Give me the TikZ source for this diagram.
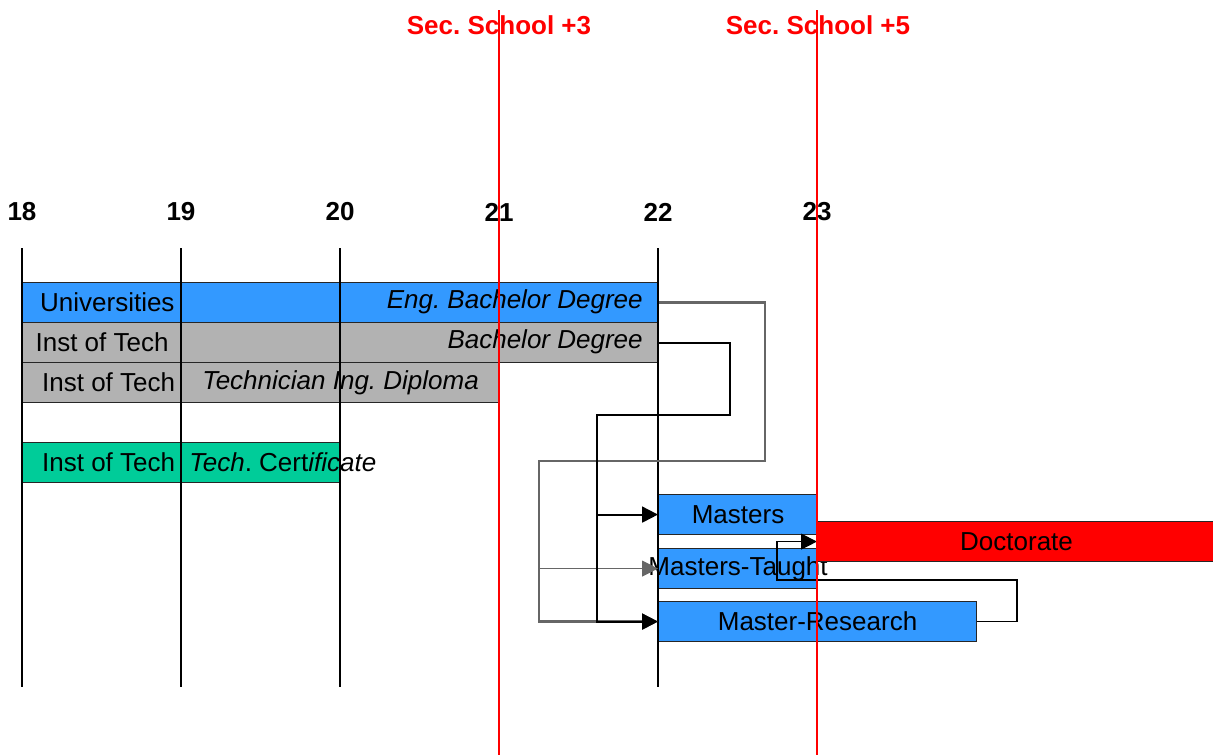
\documentclass[tikz,border=0pt]{standalone}
\usepackage{fontspec}
\setmainfont{Liberation Sans}
\usetikzlibrary{arrows.meta}
\frenchspacing
\definecolor{unicol}{HTML}{3399FF}
\definecolor{techcol}{HTML}{B2B2B2}
\definecolor{certcol}{HTML}{00CC99}
\definecolor{doccol}{HTML}{FF0000}
\definecolor{routecol}{HTML}{666666}
\tikzset{
    txt/.style={font=\fontsize{14.8}{17}\selectfont, inner sep=0pt},
    yearlbl/.style={txt, font=\fontsize{14.8}{17}\selectfont\bfseries},
    bar/.style={txt, draw=black!85, line width=0.65pt, minimum height=0.8cm,
                anchor=north west},
    onecol/.style={bar, minimum width=3.18cm},
    twocol/.style={bar, minimum width=6.36cm},
    yearline/.style={line width=0.75pt},
    flow/.style={-{Triangle[length=9pt, width=9pt]}, line width=1.1pt},
    grayflow/.style={flow, draw=routecol, line width=1.3pt},
    thinflow/.style={flow, line width=0.7pt},
    marker/.style={draw=red, line width=0.8pt},
    markertxt/.style={yearlbl, text=red},
}

\begin{document}
\begin{tikzpicture}[x=0.02cm, y=-0.02cm]
    \path[use as bounding box] (0,0) rectangle (1213,755);

    \node[onecol, fill=unicol] (uni) at (22,282) {\hspace*{6pt}Universities};
    \node[onecol, fill=unicol] (uniyear) at (181,282) {};
    \node[twocol, fill=unicol] (eng) at (340,282) {};
    \node[txt, anchor=east] (engtxt) at (643,302) {\textit{Eng. Bachelor Degree}};

    \node[onecol, fill=techcol] (tech) at (22,322) {Inst of Tech};
    \node[onecol, fill=techcol] (techyear) at (181,322) {};
    \node[twocol, fill=techcol] (bach) at (340,322) {};
    \node[txt, anchor=east] (bachtxt) at (643,342) {\textit{Bachelor Degree}};

    \node[onecol, fill=techcol] (techdip) at (22,362) {\hspace*{7.5pt}Inst of Tech};
    \node[twocol, fill=techcol] (dip) at (181,362) {\textit{Technician Ing. Diploma}};

    \node[onecol, fill=certcol] (techcert) at (22,442) {\hspace*{7.5pt}Inst of Tech};
    \node[onecol, fill=certcol] (cert) at (181,442) {};
    \node[txt, anchor=west] (certtxt) at (189,462)
        {\textit{Tech}. Cert\textit{ificate}};

    \node[onecol, fill=unicol] (masters) at (658,494) {Masters};
    \node[onecol, fill=unicol] (taught) at (658,548) {\makebox[0pt]{Masters-Taught}};
    \node[twocol, fill=unicol] (research) at (658,601) {Master-Research};
    \node[bar, fill=doccol, minimum width=7.96cm] (doc) at (817,521) {Doctorate};

    \foreach \a/\x in {18/22,19/181,20/340,21/499,22/658,23/817} {
        \node[yearlbl] (year\a) at (\x,212) {\a};
    }
    \foreach \x in {22,181,340,499,658} {
        \draw[yearline] (\x,248) -- (\x,687);
    }

    \coordinate (engturn) at (765,461);
    \coordinate (engdrop) at (539,461);
    \draw[grayflow] (eng.east) -| (engturn) -- (engdrop) |- (research.west);
    \draw[grayflow, line width=0.7pt] (engdrop |- taught.west) -- (taught.west);

    \coordinate (bachturn) at (730,415);
    \coordinate (bachdrop) at (597,415);
    \draw[flow] (bach.east) -| (bachturn) -- (bachdrop) |- (research.west);
    \draw[flow] (bachdrop |- masters.west) -- (masters.west);

    \coordinate (resturn) at (1017,580);
    \coordinate (resdrop) at (777,580);
    \draw[thinflow] (research.east) -| (resturn) -- (resdrop) |- (doc.west);

    \node[markertxt] (sec3) at (499,25) {Sec. School +3};
    \node[markertxt] (sec5) at (818,25) {Sec. School +5};
    \draw[marker] (499,10) -- (499,755);
    \draw[marker] (817,10) -- (817,755);
\end{tikzpicture}
\end{document}
